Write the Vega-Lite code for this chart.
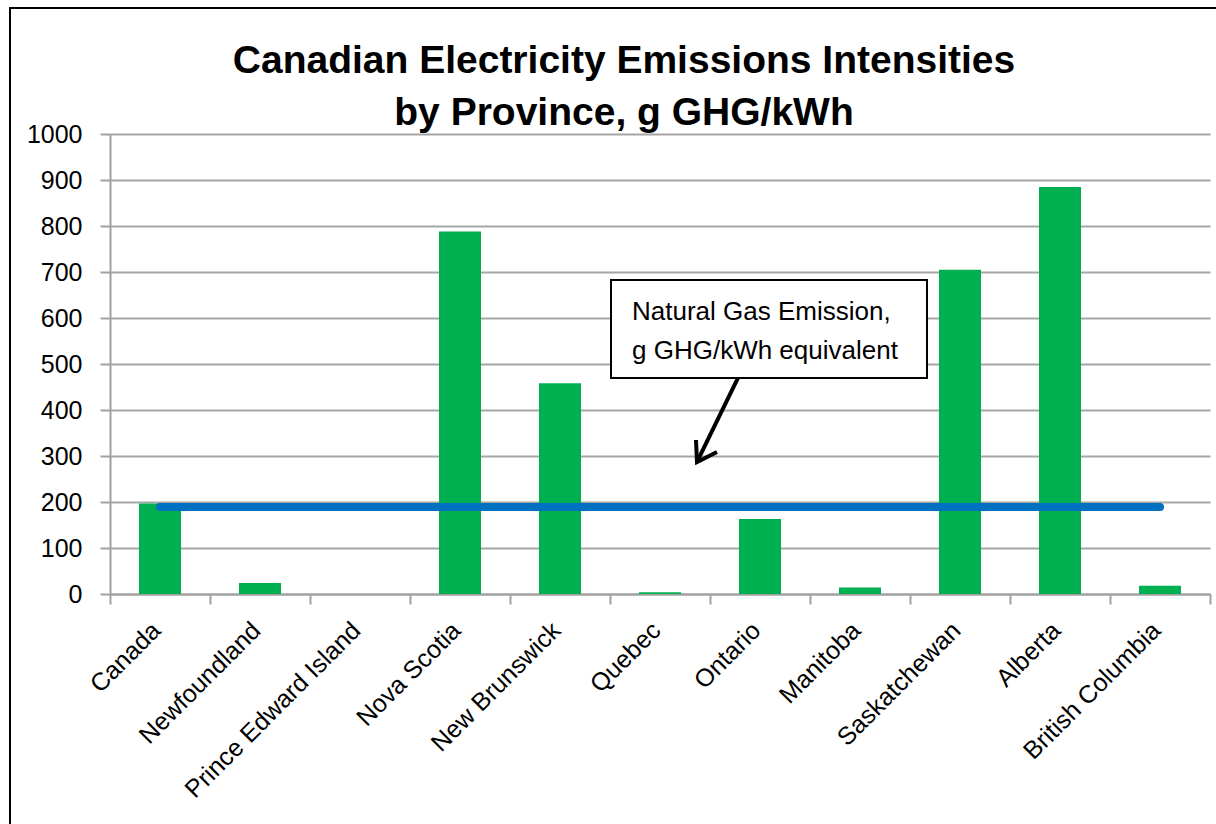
{
  "$schema": "https://vega.github.io/schema/vega-lite/v6.json",
  "width": 1100,
  "height": 460,
  "autosize": "none",
  "padding": {"left": 110, "top": 134, "right": 6, "bottom": 230},
  "background": "white",
  "config": {
    "view": {"stroke": null},
    "font": "Liberation Sans"
  },
  "title": {
    "text": ["Canadian Electricity Emissions Intensities", "by Province, g GHG/kWh"],
    "font": "Liberation Sans",
    "fontSize": 39,
    "fontWeight": "bold",
    "lineHeight": 52,
    "color": "black",
    "anchor": "middle",
    "frame": "group",
    "dx": -36,
    "dy": 132,
    "offset": 6
  },
  "datasets": {
    "provinces": [
      {"province": "Canada", "intensity": 197, "gas": 189},
      {"province": "Newfoundland", "intensity": 24, "gas": 189},
      {"province": "Prince Edward Island", "intensity": 0, "gas": 189},
      {"province": "Nova Scotia", "intensity": 788, "gas": 189},
      {"province": "New Brunswick", "intensity": 458, "gas": 189},
      {"province": "Quebec", "intensity": 4, "gas": 189},
      {"province": "Ontario", "intensity": 163, "gas": 189},
      {"province": "Manitoba", "intensity": 14, "gas": 189},
      {"province": "Saskatchewan", "intensity": 705, "gas": 189},
      {"province": "Alberta", "intensity": 885, "gas": 189},
      {"province": "British Columbia", "intensity": 18, "gas": 189}
    ],
    "frame": [
      {"x0": -1.0, "x1": 12, "y0": 1274, "y1": -800}
    ],
    "box": [
      {"x0": 5.01, "x1": 8.17, "y0": 469.6, "y1": 682.6}
    ],
    "labels": [
      {"x": 5.22, "y": 595.7, "text": "Natural Gas Emission,"},
      {"x": 5.22, "y": 510.9, "text": "g GHG/kWh equivalent"}
    ],
    "arrow": [
      {"part": "shaft", "order": 1, "x": 6.28, "y": 469.6},
      {"part": "shaft", "order": 2, "x": 5.87, "y": 287},
      {"part": "head", "order": 1, "x": 5.86, "y": 334.8},
      {"part": "head", "order": 2, "x": 5.87, "y": 287},
      {"part": "head", "order": 3, "x": 6.07, "y": 308.7}
    ]
  },
  "layer": [
    {
      "data": {"name": "provinces"},
      "layer": [
        {
          "mark": {"type": "bar", "color": "#00B050", "width": {"band": 0.42}},
          "encoding": {
            "x": {
              "field": "province",
              "type": "nominal",
              "sort": null,
              "scale": {"paddingInner": 0, "paddingOuter": 0},
              "axis": {
                "title": null,
                "labelAngle": -45,
                "labelAlign": "right",
                "labelBaseline": "middle",
                "labelFont": "Liberation Sans",
                "labelFontSize": 25,
                "labelColor": "black",
                "labelPadding": 22,
                "labelOffset": -4,
                "labelLimit": 0,
                "tickBand": "extent",
                "tickSize": 10,
                "tickColor": "#A0A0A0",
                "tickWidth": 2,
                "domainColor": "#A0A0A0",
                "domainWidth": 2,
                "grid": false,
                "labelOverlap": false
              }
            },
            "y": {
              "field": "intensity",
              "type": "quantitative",
              "scale": {"domain": [0, 1000], "nice": false},
              "axis": {
                "title": null,
                "format": "d",
                "values": [0, 100, 200, 300, 400, 500, 600, 700, 800, 900, 1000],
                "labelFont": "Liberation Sans",
                "labelFontSize": 25,
                "labelColor": "black",
                "labelPadding": 18,
                "tickSize": 10,
                "tickColor": "#A0A0A0",
                "tickWidth": 2,
                "domainColor": "#A0A0A0",
                "domainWidth": 2,
                "grid": true,
                "gridColor": "#A6A6A6",
                "gridWidth": 2
              }
            }
          }
        },
        {
          "mark": {"type": "line", "color": "#0070C0", "strokeWidth": 8, "strokeCap": "round"},
          "encoding": {
            "x": {"field": "province", "type": "nominal", "sort": null},
            "y": {"field": "gas", "type": "quantitative"}
          }
        }
      ]
    },
    {
      "data": {"name": "frame"},
      "mark": {"type": "rect", "fill": null, "stroke": "black", "strokeWidth": 2, "clip": false},
      "encoding": {
        "x": {"field": "x0", "type": "quantitative", "scale": {"domain": [0, 11], "nice": false, "zero": false}, "axis": null},
        "x2": {"field": "x1"},
        "y": {"field": "y0", "type": "quantitative"},
        "y2": {"field": "y1"}
      }
    },
    {
      "data": {"name": "box"},
      "mark": {"type": "rect", "fill": "white", "stroke": "black", "strokeWidth": 2},
      "encoding": {
        "x": {"field": "x0", "type": "quantitative", "scale": {"domain": [0, 11], "nice": false, "zero": false}, "axis": null},
        "x2": {"field": "x1"},
        "y": {"field": "y0", "type": "quantitative"},
        "y2": {"field": "y1"}
      }
    },
    {
      "data": {"name": "labels"},
      "mark": {"type": "text", "align": "left", "baseline": "alphabetic", "font": "Liberation Sans", "fontSize": 26, "color": "black"},
      "encoding": {
        "x": {"field": "x", "type": "quantitative", "scale": {"domain": [0, 11], "nice": false, "zero": false}, "axis": null},
        "y": {"field": "y", "type": "quantitative"},
        "text": {"field": "text"}
      }
    },
    {
      "data": {"name": "arrow"},
      "mark": {"type": "line", "color": "black", "strokeWidth": 4, "strokeJoin": "miter", "strokeCap": "butt"},
      "encoding": {
        "x": {"field": "x", "type": "quantitative", "scale": {"domain": [0, 11], "nice": false, "zero": false}, "axis": null},
        "y": {"field": "y", "type": "quantitative"},
        "detail": {"field": "part"},
        "order": {"field": "order"}
      }
    }
  ],
  "resolve": {"scale": {"x": "independent"}, "axis": {"x": "independent"}}
}
